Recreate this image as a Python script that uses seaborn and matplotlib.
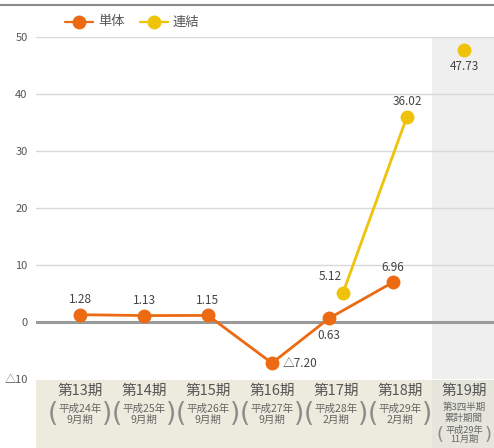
import numpy as np
import pandas as pd
import matplotlib
matplotlib.use("Agg")
import matplotlib.pyplot as plt
import seaborn as sns

# chart data
periods = ["第13期", "第14期", "第15期", "第16期", "第17期", "第18期", "第19期"]
sub_labels = [
    "平成24年\n9月期", "平成25年\n9月期", "平成26年\n9月期", "平成27年\n9月期",
    "平成28年\n2月期", "平成29年\n2月期", "平成29年\n11月期",
]
single = [1.28, 1.13, 1.15, -7.20, 0.63, 6.96, np.nan]
consolidated = [np.nan, np.nan, np.nan, np.nan, 5.12, 36.02, 47.73]
# 19期 is a 3Q cumulative figure, so it is not joined to the full-year line
consolidated_segment = [0, 0, 0, 0, 0, 0, 1]
series_names = ["単体", "連結"]
y_ticks = [-10, 0, 10, 20, 30, 40, 50]
y_tick_labels = ["△10", "0", "10", "20", "30", "40", "50"]

# where each value label sits relative to its marker
single_label_pos = ["up", "up", "up", "right", "down", "up", None]
consolidated_label_pos = [None, None, None, None, "upleft", "up", "down"]

ORANGE = "#ec6a12"
YELLOW = "#efc30a"

sns.set_theme(style="white")
plt.rcParams["font.family"] = ["Noto Sans CJK JP", "DejaVu Sans"]

W, H = 494, 448
fig = plt.figure(figsize=(W / 100, H / 100), dpi=100)

# where both series exist the markers are pushed apart a little
dodge = 0.11
idx = np.arange(len(periods))
both = ~np.isnan(single) & ~np.isnan(consolidated)
x_single = idx - dodge * both
x_cons = idx + dodge * both
df = pd.concat([
    pd.DataFrame({"x": x_single, "y": single, "series": series_names[0], "seg": 0}),
    pd.DataFrame({"x": x_cons, "y": consolidated, "series": series_names[1],
                  "seg": consolidated_segment}),
]).dropna()
df["unit"] = df["series"] + df["seg"].astype(str)

x_left, x_right = -0.6875, 6.47
ax = fig.add_axes([36 / W, 1 - 379 / H, (W - 36) / W, (379 - 37) / H])
ax.set_xlim(x_left, x_right)
ax.set_ylim(-10, 50)
ax.axvspan(5.5, x_right, color="#efefef", zorder=0, lw=0)
for t in y_ticks[2:]:
    ax.axhline(t, color="#d9d9d9", lw=1, zorder=1)
ax.axhline(0, color="#9a9a9a", lw=2.2, zorder=1)

sns.lineplot(data=df, x="x", y="y", hue="series", units="unit", estimator=None,
             palette={series_names[0]: ORANGE, series_names[1]: YELLOW},
             marker="o", markersize=10, markeredgewidth=0, lw=2,
             legend=False, ax=ax, zorder=3)

for s in ax.spines.values():
    s.set_visible(False)
ax.set_xticks([])
ax.set_yticks(y_ticks)
ax.set_yticklabels(y_tick_labels, fontsize=8, color="#555555")
ax.tick_params(axis="y", length=0, pad=6)
ax.set_xlabel("")
ax.set_ylabel("")


def fmt(v):
    return f"△{abs(v):.2f}" if v < 0 else f"{v:.2f}"


offsets = {"up": ((0, 11), "center"), "down": ((0, -12), "center"),
           "right": ((8, 0), "left"), "upleft": ((-9, 12), "center")}
lab_kw = dict(textcoords="offset points", fontsize=8.5, color="#444444",
              va="center", annotation_clip=False)
for xs, vals, poss in [(x_single, single, single_label_pos),
                       (x_cons, consolidated, consolidated_label_pos)]:
    for x, v, pos in zip(xs, vals, poss):
        if pos is None or np.isnan(v):
            continue
        off, ha = offsets[pos]
        ax.annotate(fmt(v), (x, v), xytext=off, ha=ha, **lab_kw)

# category band under the plot
band_h = H - 380
band = fig.add_axes([36 / W, 0, (W - 36) / W, band_h / H])
band.set_xlim(x_left, x_right)
band.set_ylim(band_h, 0)
band.axis("off")
band.add_patch(plt.Rectangle((x_left, 0), x_right - x_left, band_h,
                             color="#edebdd", zorder=0, lw=0))
band.axvspan(5.5, x_right, color="#e6e5dc", lw=0, zorder=0.5)
txt = "#666666"
par = dict(ha="center", va="center", color="#8a8a8a", family="DejaVu Sans")
for i, (p, sub) in enumerate(zip(periods, sub_labels)):
    band.text(i, 11, p, ha="center", va="center", fontsize=10.5, color="#555555")
    if i < len(periods) - 1:
        band.text(i, 34, sub, ha="center", va="center", fontsize=7.6,
                  color=txt, linespacing=1.1)
        band.text(i - 0.43, 34, "(", fontsize=19, **par)
        band.text(i + 0.43, 34, ")", fontsize=19, **par)
    else:
        band.text(i, 33, "第3四半期\n累計期間", ha="center", va="center",
                  fontsize=6.8, color=txt, linespacing=1.3)
        band.text(i, 55, sub, ha="center", va="center", fontsize=6.6,
                  color=txt, linespacing=1.05)
        band.text(i - 0.38, 55, "(", fontsize=13, **par)
        band.text(i + 0.38, 55, ")", fontsize=13, **par)

# top rule and legend
fig.add_artist(plt.Line2D([0, 1], [1 - 5 / H, 1 - 5 / H], color="#8a8a8a", lw=1.5))
for lx, col, name in [(65, ORANGE, series_names[0]), (140, YELLOW, series_names[1])]:
    ly = 1 - 22 / H
    fig.add_artist(plt.Line2D([lx / W, (lx + 28) / W], [ly, ly], color=col, lw=1.6))
    fig.add_artist(plt.Line2D([(lx + 14) / W], [ly], color=col, marker="o",
                              markersize=10, markeredgewidth=0))
    fig.text((lx + 33) / W, ly, name, fontsize=9.5, color="#555555", va="center")

fig.savefig("out.png", dpi=100)
